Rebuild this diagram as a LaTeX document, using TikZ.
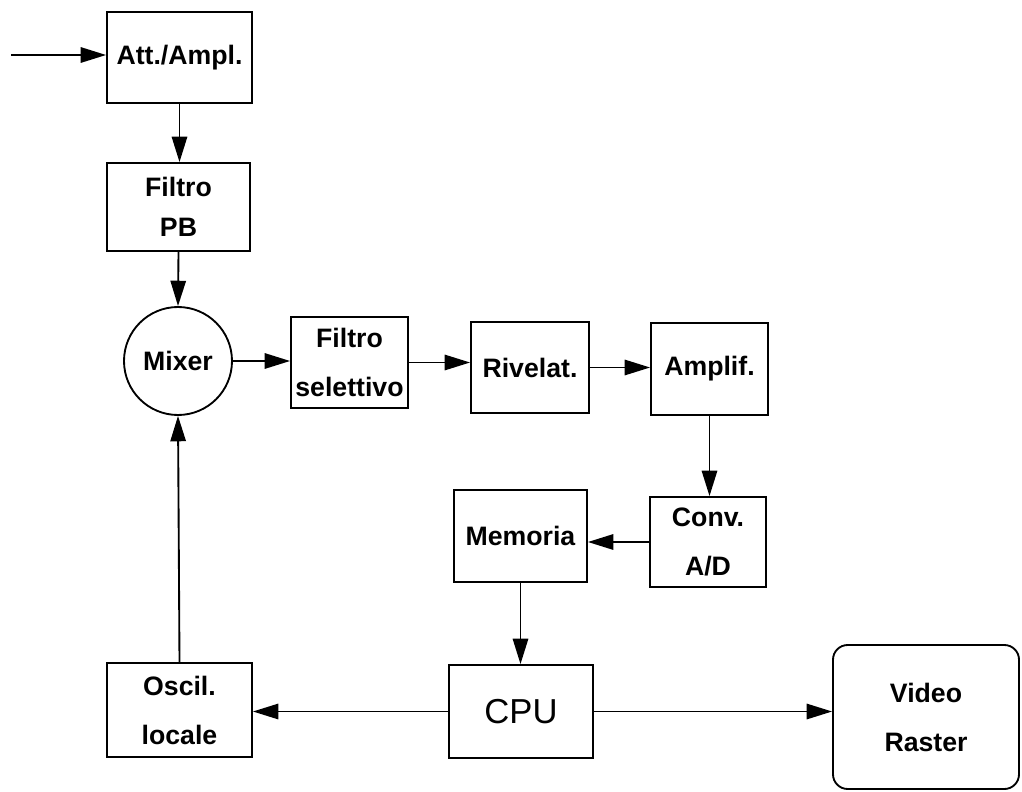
\documentclass[tikz,border=0pt]{standalone}
\usepackage{fontspec}
\setmainfont{Liberation Sans}
\usetikzlibrary{arrows.meta}
\newcommand\lbl{\fontsize{20pt}{36.75pt}\selectfont\bfseries}
\begin{document}
\begin{tikzpicture}[x=0.75pt,y=-0.75pt,
  box/.style={draw, line width=1.4pt, rectangle, align=center, inner sep=0pt, font=\lbl},
  arr/.style={line width=1.4pt, -{Triangle[length=19pt,width=11.5pt]}}]
\useasboundingbox (0,0) rectangle (1022,792);
\fill[white] (0,0) rectangle (1022,792);
\node[box, minimum width=108.75pt, minimum height=68.25pt] (att) at (179.5,57.5) {Att./Ampl.};
\node[box, minimum width=107.25pt, minimum height=66pt, font=\fontsize{20pt}{30pt}\selectfont\bfseries] (filtropb) at (178.5,207) {Filtro\\PB};
\node[box, circle, minimum size=81pt] (mixer) at (178,361) {Mixer};
\node[box, minimum width=87.75pt, minimum height=68.25pt] (fsel) at (349.5,362.5) {Filtro\\selettivo};
\node[box, minimum width=88.5pt, minimum height=68.25pt] (riv) at (530,367.5) {Rivelat.};
\node[box, minimum width=87.75pt, minimum height=69pt] (amp) at (709.5,369) {Amplif.};
\node[box, minimum width=87pt, minimum height=67.5pt] (conv) at (708,542) {Conv.\\A/D};
\node[box, minimum width=99.75pt, minimum height=69pt] (mem) at (520.5,536) {Memoria};
\node[box, minimum width=108pt, minimum height=69.75pt, font=\fontsize{26pt}{30pt}\selectfont] (cpu) at (521,711.5) {CPU};
\node[box, minimum width=108.75pt, minimum height=70.5pt] (osc) at (179.5,710) {Oscil.\\locale};
\node[box, rounded corners=11pt, minimum width=139.5pt, minimum height=108pt] (video) at (926,717) {Video\\Raster};
\coordinate (in) at (11,55);
\draw[arr] (in) -- (in -| att.west);
\draw[arr] (att.south) -- (att.south |- filtropb.north);
\draw[arr] (filtropb.south) -- (mixer.north);
\draw[arr] (mixer.east) -- (mixer.east -| fsel.west);
\draw[arr] (fsel.east) -- (fsel.east -| riv.west);
\draw[arr] (riv.east) -- (riv.east -| amp.west);
\draw[arr] (amp.south) -- (amp.south |- conv.north);
\draw[arr] (conv.west) -- (conv.west -| mem.east);
\draw[arr] (mem.south) -- (mem.south |- cpu.north);
\draw[arr] (cpu.west) -- (cpu.west -| osc.east);
\draw[arr] (cpu.east) -- (cpu.east -| video.west);
\draw[arr] (osc.north) -- (mixer.south);
\end{tikzpicture}
\end{document}
